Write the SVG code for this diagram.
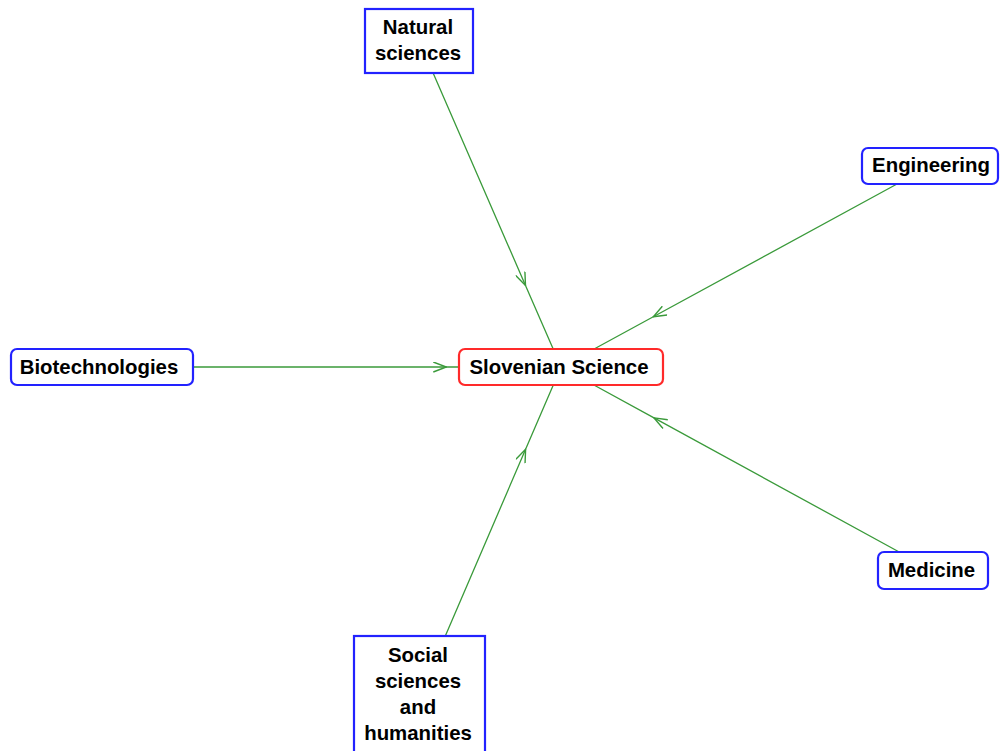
<svg xmlns="http://www.w3.org/2000/svg" width="1000" height="751" viewBox="0 0 1000 751">
  <style>
    .node rect { fill: #ffffff; stroke-width: 2.2; }
    .topic rect { stroke: #2222ff; }
    .root rect { stroke: #ff2a2a; }
    .node text { font-family: "Liberation Sans", Arial, sans-serif; font-size: 20.4px; font-weight: bold; fill: #000000; text-anchor: middle; }
    .edge { fill: none; stroke: #3a9a3a; stroke-width: 1.3; marker-mid: url(#vee); }
  </style>
  <defs>
    <marker id="vee" viewBox="0 0 15 11" refX="14" refY="5.5" markerWidth="15" markerHeight="11" markerUnits="userSpaceOnUse" orient="auto">
      <path d="M1,0.5 L14,5.5 L1,10.5" fill="none" stroke="#3a9a3a" stroke-width="1.4"/>
    </marker>
  </defs>
  <rect width="1000" height="751" fill="#ffffff"/>

  <!-- connectors: each runs from a topic box toward the root, with the arrowhead placed at 3/4 of the way -->
  <g id="connectors">
    <path class="edge" d="M433.1,73 L525.5,285.4 L553.2,349"/>
    <path class="edge" d="M897,184 L653.3,316.8 L594.1,349"/>
    <path class="edge" d="M193,367 L446.3,367 L459,367"/>
    <path class="edge" d="M899.2,552 L654,417.9 L593.9,385"/>
    <path class="edge" d="M445.3,636 L525.6,449.3 L553.3,385"/>
  </g>

  <g id="root" class="node root">
    <rect x="459" y="349" width="204" height="36" rx="6" ry="6"/>
    <text x="559" y="374">Slovenian Science</text>
  </g>

  <g id="natural-sciences" class="node topic">
    <rect x="365" y="9" width="108" height="64"/>
    <text x="418" y="34">Natural</text>
    <text x="418" y="60">sciences</text>
  </g>

  <g id="engineering" class="node topic">
    <rect x="862" y="148" width="136" height="36" rx="6" ry="6"/>
    <text x="931" y="172">Engineering</text>
  </g>

  <g id="biotechnologies" class="node topic">
    <rect x="11" y="349" width="182" height="36" rx="6" ry="6"/>
    <text x="99" y="374">Biotechnologies</text>
  </g>

  <g id="medicine" class="node topic">
    <rect x="878" y="552" width="110" height="37" rx="6" ry="6"/>
    <text x="931.5" y="577">Medicine</text>
  </g>

  <g id="social-sciences" class="node topic">
    <rect x="354" y="636" width="131" height="122"/>
    <text x="418" y="662">Social</text>
    <text x="418" y="688">sciences</text>
    <text x="418" y="714">and</text>
    <text x="418" y="740">humanities</text>
  </g>
</svg>
